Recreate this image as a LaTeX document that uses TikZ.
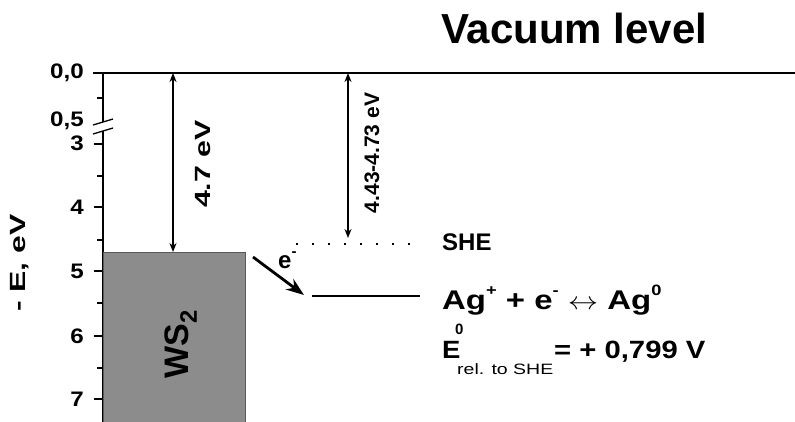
\documentclass[tikz,border=0pt]{standalone}
\usepackage{fontspec}
\usepackage{graphicx}
\setmainfont{Liberation Sans}
\usetikzlibrary{arrows.meta}
\newcommand{\wx}[2]{\scalebox{#1}[1]{#2}}
\newcommand{\hsup}[1]{\raisebox{0.5em}{\fontsize{15}{16}\selectfont #1}}
\begin{document}
\begin{tikzpicture}[x=1pt,y=-1pt,
  lbl/.style={font=\fontsize{21}{23}\selectfont\bfseries, anchor=east, inner sep=0pt},
  major/.style={line width=1.3pt},
  minor/.style={line width=1.3pt},
  dbl/.style={line width=1.5pt, {Stealth[length=9pt,width=7pt]}-{Stealth[length=9pt,width=7pt]}},
  vlbl/.style={font=\fontsize{21}{23}\selectfont\bfseries, rotate=90, inner sep=0pt},
  box/.style={draw=black!65, fill=black!45, line width=0.8pt, minimum width=172pt, minimum height=142pt, rotate=90, inner sep=0pt},
  big/.style={font=\bfseries, anchor=base west, inner sep=0pt}]
\useasboundingbox (0,0) rectangle (795,421);
% vacuum line
\coordinate (vl) at (93,73);
\coordinate (vr) at (795,73);
\draw[line width=1.5pt] (vl) -- (vr);
% axis
\coordinate (a0) at (103,73);
\coordinate (a1) at (103,122);
\coordinate (a2) at (103,131);
\coordinate (a3) at (103,423);
\draw[line width=1.3pt] (a0) -- (a1);
\draw[line width=1.3pt] (a2) -- (a3);
% break marks
\coordinate (b1s) at (93,125); \coordinate (b1e) at (113,119);
\coordinate (b2s) at (93,134); \coordinate (b2e) at (113,128);
\draw[line width=1.3pt] (b1s) -- (b1e);
\draw[line width=1.3pt] (b2s) -- (b2e);
% ticks
\foreach \y in {98,176,240,303,368} {\draw[minor] (97,\y) -- (103,\y);}
\foreach \y in {144,207,271,336,399} {\draw[major] (94,\y) -- (103,\y);}
% tick labels
\node[lbl] (t00) at (84,73) {\wx{1.15}{0,0}};
\node[lbl] (t05) at (84,121) {\wx{1.15}{0,5}};
\node[lbl] (t3) at (84,143) {\wx{1.15}{3}};
\node[lbl] (t4) at (84,207) {\wx{1.15}{4}};
\node[lbl] (t5) at (84,271) {\wx{1.15}{5}};
\node[lbl] (t6) at (84,336) {\wx{1.15}{6}};
\node[lbl] (t7) at (84,399) {\wx{1.15}{7}};
\node[vlbl, font=\fontsize{22}{24}\selectfont\bfseries] (ylab) at (20,263) {\wx{1.45}{- E, eV}};
% WS2 box
\node[box] (ws) at (174,338.5) {};
\node[font=\fontsize{34}{36}\selectfont\bfseries, rotate=90, inner sep=0pt] (wslab) at (181,344) {WS$_\mathbf{2}$};
% arrows
\coordinate (w1t) at (173,73);
\coordinate (w1b) at (173,252);
\draw[dbl] (w1t) -- (w1b);
\node[vlbl, font=\fontsize{22}{24}\selectfont\bfseries] (l47) at (203,164) {\wx{1.38}{4.7 eV}};
\coordinate (w2t) at (348,73);
\coordinate (w2b) at (348,238);
\draw[dbl] (w2t) -- (w2b);
\node[vlbl] (l443) at (372,153) {4.43-4.73 eV};
% SHE level
\coordinate (she1) at (296,244);
\coordinate (she2) at (410,244);
\draw[line width=2pt, dash pattern=on 2pt off 14pt] (she1) -- (she2);
% Ag level
\coordinate (ag1) at (312,296);
\coordinate (ag2) at (420,296);
\draw[line width=2pt] (ag1) -- (ag2);
% electron arrow
\coordinate (e1) at (253,257);
\coordinate (e2) at (304,295);
\draw[line width=2.8pt, -{Stealth[length=18pt,width=13pt]}] (e1) -- (e2);
\node[font=\fontsize{24}{26}\selectfont\bfseries, inner sep=0pt, anchor=base west] (elab) at (278,268) {e\raisebox{0.5em}{\fontsize{15}{16}\selectfont -}};
% texts
\node[big, font=\fontsize{42}{46}\selectfont\bfseries] (vac) at (441,43) {Vacuum level};
\node[big, font=\fontsize{24}{26}\selectfont\bfseries] (she) at (442,250) {SHE};
\node[big, font=\fontsize{27}{30}\selectfont\bfseries] (eq) at (442,309) {\wx{1.22}{Ag\hsup{+} + e\hsup{-} {\mdseries$\leftrightarrow$} Ag\hsup{0}}};
\node[big, font=\fontsize{25}{28}\selectfont\bfseries] (pE) at (442,358) {\wx{1.1}{E}};
\node[big, font=\fontsize{15}{16}\selectfont\bfseries] (p0) at (455,334) {0};
\node[big, font=\fontsize{15}{16}\selectfont] (psub) at (457,374) {\wx{1.3}{rel. to SHE}};
\node[big, font=\fontsize{25}{28}\selectfont\bfseries] (pval) at (554,358) {\wx{1.17}{= + 0,799 V}};
\end{tikzpicture}
\end{document}
